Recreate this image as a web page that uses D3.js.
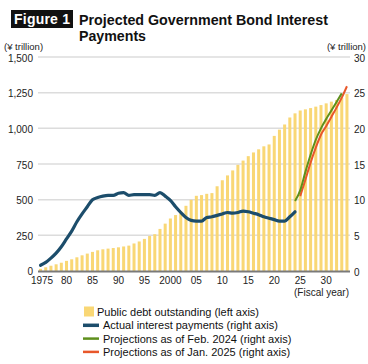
<!DOCTYPE html>
<html><head><meta charset="utf-8">
<script src="https://cdn.jsdelivr.net/npm/d3@7"></script>
<style>
body{margin:0;background:#fff;}
svg{display:block;font-family:"Liberation Sans",Arial,Helvetica,sans-serif;}
</style></head>
<body><svg id="c" width="368" height="364"></svg>
<script>
const years = d3.range(1975, 2035);
const debt = [15,26,37,47,58,71,82,96,110,122,134,145,152,157,161,166,172,178,193,207,
  225,245,258,295,332,368,392,421,457,499,527,532,541,546,594,636,670,705,744,774,
  805,831,853,874,887,947,991,1027,1076,1105,1125,1133,1142,1152,1163,1175,1187,1199,1217,1240];
const actualYears = d3.range(1975, 2025);
const actual = [0.8,1.2,1.8,2.5,3.4,4.5,5.6,6.9,8.0,9.0,10.0,10.3,10.5,10.6,10.6,10.9,11.0,10.6,10.7,10.7,
  10.7,10.7,10.6,11.0,10.5,9.9,9.0,8.2,7.5,7.1,7.0,7.0,7.5,7.6,7.8,8.0,8.2,8.1,8.2,8.4,
  8.3,8.1,7.9,7.6,7.4,7.2,7.0,7.0,7.6,8.3];
const feb24Years = d3.range(2024, 2034);
const feb24 = [9.8,11.3,13.9,16.3,18.4,20.0,21.3,22.5,23.7,24.9];
const jan25Years = d3.range(2025, 2035);
const jan25 = [10.5,12.8,15.2,17.3,19.1,20.3,21.6,22.9,24.3,25.9];
const leftTicks = [0,250,500,750,1000,1250,1500];
const rightTicks = [0,5,10,15,20,25,30];
const xTickYears = [1975,1980,1985,1990,1995,2000,2005,2010,2015,2020,2025,2030];
const xTickLabels = ["1975","80","85","90","95","2000","05","10","15","20","25","30"];
const legendItems = [
  {label:"Public debt outstanding (left axis)", type:"bar"},
  {label:"Actual interest payments (right axis)", type:"line", color:"#1c4d6b", w:3},
  {label:"Projections as of Feb. 2024 (right axis)", type:"line", color:"#5e8f1c", w:2},
  {label:"Projections as of Jan. 2025 (right axis)", type:"line", color:"#e8572a", w:2}
];

const svg = d3.select("#c");
const L = 38, R = 350, T = 57, B = 271;
const x = d3.scaleBand().domain(years).range([L, R - 0.5]).paddingInner(0.42).paddingOuter(0.2);
const yL = d3.scaleLinear().domain([0,1500]).range([B, T]);
const yR = d3.scaleLinear().domain([0,30]).range([B, T]);
const cx = yr => x(yr) + x.bandwidth()/2;
const FF = "Liberation Sans, Arial, sans-serif";

// title
svg.append("rect").attr("x",11).attr("y",10).attr("width",62).attr("height",18).attr("fill","#111");
svg.append("text").attr("x",42).attr("y",24).attr("text-anchor","middle").attr("fill","#fff")
  .attr("font-weight","bold").attr("font-size",14).attr("textLength",56).text("Figure 1");
svg.append("text").attr("x",79).attr("y",25).attr("font-weight","bold").attr("font-size",15.5)
  .attr("fill","#111").attr("textLength",249).attr("lengthAdjust","spacingAndGlyphs").text("Projected Government Bond Interest");
svg.append("text").attr("x",79).attr("y",41).attr("font-weight","bold").attr("font-size",15.5)
  .attr("fill","#111").attr("textLength",67).attr("lengthAdjust","spacingAndGlyphs").text("Payments");

svg.append("text").attr("x",4).attr("y",50).attr("font-size",9.5).attr("fill","#222").text("(¥ trillion)");
svg.append("text").attr("x",366).attr("y",50).attr("text-anchor","end").attr("font-size",9.5).attr("fill","#222").text("(¥ trillion)");

// gridlines
svg.append("g").selectAll("line").data(leftTicks.filter(d=>d>0)).join("line")
  .attr("x1",L).attr("x2",R).attr("y1",d=>yL(d)).attr("y2",d=>yL(d))
  .attr("stroke","#dcdcdc").attr("stroke-width",1.5);

// left axis
const gl = svg.append("g").attr("transform",`translate(${L},1)`)
  .call(d3.axisLeft(yL).tickValues(leftTicks).tickSize(0).tickPadding(5).tickFormat(d3.format(",")));
gl.select(".domain").remove();
gl.selectAll("text").attr("font-size",10).attr("fill","#222").attr("font-family",FF);
gl.selectAll(".tick").filter(d=>d===0).select("text").attr("dy","0.2em");

// right axis
const gr = svg.append("g").attr("transform",`translate(${R},1)`)
  .call(d3.axisRight(yR).tickValues(rightTicks).tickSize(0).tickPadding(4));
gr.select(".domain").remove();
gr.selectAll("text").attr("font-size",10).attr("fill","#222").attr("font-family",FF);

// bars
svg.append("g").selectAll("rect").data(years).join("rect")
  .attr("x",d=>x(d)).attr("width",x.bandwidth())
  .attr("y",(d,i)=>yL(debt[i])).attr("height",(d,i)=>B-yL(debt[i]))
  .attr("fill","#f9d775");

// baseline
svg.append("line").attr("x1",L).attr("x2",R).attr("y1",B+0.5).attr("y2",B+0.5)
  .attr("stroke","#7a7a7a").attr("stroke-width",2);

// x axis labels
const gx = svg.append("g").attr("transform",`translate(0,${B+2})`)
  .call(d3.axisBottom(x).tickValues(xTickYears).tickSize(0).tickPadding(4)
    .tickFormat(d=>xTickLabels[xTickYears.indexOf(d)]));
gx.select(".domain").remove();
gx.selectAll("text").attr("font-size",10).attr("fill","#222").attr("font-family",FF);
gx.selectAll(".tick").filter(d=>d===1975).select("text").attr("dx","1.5");
svg.append("text").attr("x",349).attr("y",296).attr("text-anchor","end").attr("font-size",10).attr("fill","#222").text("(Fiscal year)");

// lines
const mk = (ys, vs) => ys.map((yr,i)=>[cx(yr), yR(vs[i])]);
const line = d3.line().curve(d3.curveMonotoneX);
svg.append("path").attr("d",line(mk(actualYears,actual))).attr("fill","none")
  .attr("stroke","#1c4d6b").attr("stroke-width",3.2).attr("stroke-linejoin","round").attr("stroke-linecap","round");
svg.append("path").attr("d",line(mk(jan25Years,jan25))).attr("fill","none")
  .attr("stroke","#e8572a").attr("stroke-width",2);
svg.append("path").attr("d",line(mk(feb24Years,feb24))).attr("fill","none")
  .attr("stroke","#5e8f1c").attr("stroke-width",2);

// legend
const lg = svg.append("g");
legendItems.forEach((it,i)=>{
  const yy = 312 + i*13.3;
  if(it.type==="bar"){
    lg.append("rect").attr("x",84).attr("y",yy-5.5).attr("width",10).attr("height",10).attr("fill","#f9d775");
    lg.append("text").attr("x",97).attr("y",yy+4).attr("font-size",11).attr("fill","#111").text(it.label);
  } else {
    lg.append("line").attr("x1",83).attr("x2",99).attr("y1",yy).attr("y2",yy)
      .attr("stroke",it.color).attr("stroke-width",it.w+0.5);
    lg.append("text").attr("x",103).attr("y",yy+4).attr("font-size",11).attr("fill","#111").text(it.label);
  }
});
</script></body></html>
